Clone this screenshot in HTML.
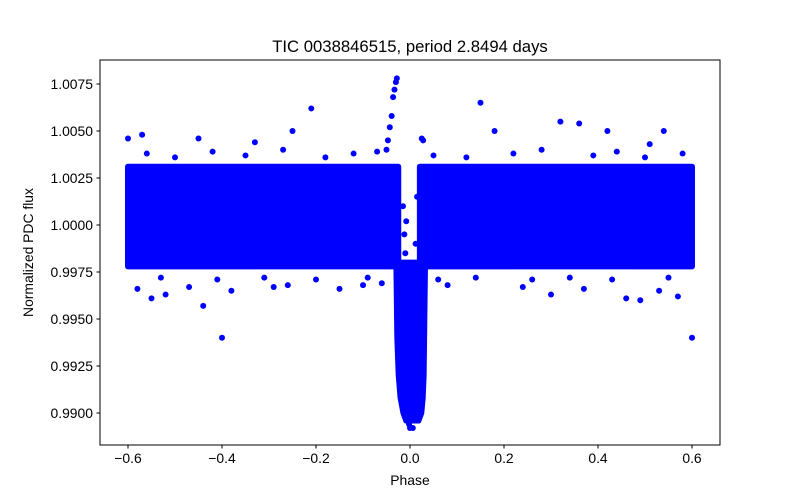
<!DOCTYPE html>
<html><head><meta charset="utf-8">
<style>
html,body{margin:0;padding:0;background:#fff;}
svg{display:block;font-family:"Liberation Sans","DejaVu Sans",sans-serif;}
</style></head>
<body>
<svg id="chart" width="800" height="500" viewBox="0 0 800 500">
<rect x="0" y="0" width="800" height="500" fill="#fff"/>
<g id="plot"></g>
<rect x="100" y="60" width="620" height="385" fill="none" stroke="#000" stroke-width="1"/>
<g id="xticks"></g>
<g id="yticks"></g>
<text x="410" y="52" font-size="16.7" text-anchor="middle">TIC 0038846515, period 2.8494 days</text>
<text x="410" y="485" font-size="13.9" text-anchor="middle">Phase</text>
<text x="0" y="0" font-size="13.9" text-anchor="middle" transform="translate(33,252.5) rotate(-90)">Normalized PDC flux</text>
</svg>
<script>
// Data arrays
const xTickValues = [-0.6, -0.4, -0.2, 0.0, 0.2, 0.4, 0.6];
const xTickLabels = ["\u22120.6", "\u22120.4", "\u22120.2", "0.0", "0.2", "0.4", "0.6"];
const yTickValues = [0.9900, 0.9925, 0.9950, 0.9975, 1.0000, 1.0025, 1.0050, 1.0075];
const yTickLabels = ["0.9900", "0.9925", "0.9950", "0.9975", "1.0000", "1.0025", "1.0050", "1.0075"];
// dense out-of-transit band envelopes: [phaseStart, phaseEnd, fluxLow, fluxHigh]
const leftBand = [-0.6, -0.025, 0.9978, 1.0031];
const rightBand = [0.021, 0.6, 0.9978, 1.0031];
// transit channel envelope
const transitFlux = [0.9980, 0.9960, 0.9940, 0.9920, 0.9908, 0.9900, 0.9896];
const transitLeft = [-0.029, -0.028, -0.027, -0.024, -0.020, -0.014, -0.008];
const transitRight = [0.032, 0.031, 0.030, 0.029, 0.027, 0.024, 0.018];
// individual scattered points (phase, flux)
const outlierPhase = [-0.40, 0.60, -0.21, 0.15, 0.32, 0.36, 0.18, -0.25, 0.42, 0.54, -0.57, -0.60, -0.45, -0.33, 0.51,
  -0.58, -0.55, -0.52, -0.47, -0.44, -0.38, -0.29, -0.26, -0.15, -0.10, -0.06, 0.08, 0.24, 0.30, 0.37, 0.46, 0.53, 0.57, 0.49,
  -0.028, -0.030, -0.033, -0.036, -0.039, -0.043, -0.047, -0.050, 0.028, 0.025,
  0.000, 0.006, -0.002, 0.009,
  -0.56, -0.50, -0.42, -0.35, -0.27, -0.18, -0.12, -0.07, 0.05, 0.12, 0.22, 0.28, 0.39, 0.44, 0.50, 0.58,
  -0.53, -0.41, -0.31, -0.20, -0.09, 0.06, 0.14, 0.26, 0.34, 0.43, 0.55,
  -0.015, -0.012, -0.008, 0.012, 0.015, -0.010];
const outlierFlux = [0.9940, 0.9940, 1.0062, 1.0065, 1.0055, 1.0054, 1.0050, 1.0050, 1.0050, 1.0050, 1.0048, 1.0046, 1.0046, 1.0044, 1.0043,
  0.9966, 0.9961, 0.9963, 0.9967, 0.9957, 0.9965, 0.9967, 0.9968, 0.9966, 0.9968, 0.9969, 0.9968, 0.9967, 0.9963, 0.9966, 0.9961, 0.9965, 0.9962, 0.9960,
  1.0078, 1.0076, 1.0072, 1.0068, 1.0058, 1.0052, 1.0045, 1.0040, 1.0045, 1.0046,
  0.9892, 0.9892, 0.9894, 0.9897,
  1.0038, 1.0036, 1.0039, 1.0037, 1.0040, 1.0036, 1.0038, 1.0039, 1.0037, 1.0036, 1.0038, 1.0040, 1.0037, 1.0039, 1.0036, 1.0038,
  0.9972, 0.9971, 0.9972, 0.9971, 0.9972, 0.9971, 0.9972, 0.9971, 0.9972, 0.9971, 0.9972,
  1.0010, 0.9995, 1.0002, 0.9990, 1.0015, 0.9985];

const X0 = 100, X1 = 720, Y0 = 60, Y1 = 445;
function xs(p){ return 410 + p * 470; }
function ys(f){ return 225 - (f - 1.0) * 18800; }
const NS = "http://www.w3.org/2000/svg";
const plot = document.getElementById('plot');
const blue = "#0000ff";

function band(b, name){
  const r = document.createElementNS(NS, 'rect');
  r.setAttribute('x', xs(b[0]) - 3);
  r.setAttribute('y', ys(b[3]) - 3);
  r.setAttribute('width', xs(b[1]) - xs(b[0]) + 6);
  r.setAttribute('height', ys(b[2]) - ys(b[3]) + 6);
  r.setAttribute('rx', 3);
  r.setAttribute('fill', blue);
  
  
  plot.appendChild(r);
}
band(leftBand, 'pre-transit-data-band');
band(rightBand, 'post-transit-data-band');

// transit polygon
let pts = [];
for (let i = 0; i < transitFlux.length; i++) pts.push(xs(transitLeft[i]) + ',' + ys(transitFlux[i]));
for (let i = transitFlux.length - 1; i >= 0; i--) pts.push(xs(transitRight[i]) + ',' + ys(transitFlux[i]));
const poly = document.createElementNS(NS, 'polygon');
poly.setAttribute('points', pts.join(' '));
poly.setAttribute('fill', blue);
poly.setAttribute('stroke', blue);
poly.setAttribute('stroke-width', '6');
poly.setAttribute('stroke-linejoin', 'round');


plot.appendChild(poly);

for (let i = 0; i < outlierPhase.length; i++) {
  const c = document.createElementNS(NS, 'circle');
  c.setAttribute('cx', xs(outlierPhase[i]));
  c.setAttribute('cy', ys(outlierFlux[i]));
  c.setAttribute('r', 3);
  c.setAttribute('fill', blue);
  
  
  plot.appendChild(c);
}

const xg = document.getElementById('xticks');
xTickValues.forEach((v, i) => {
  const x = xs(v);
  const l = document.createElementNS(NS, 'line');
  l.setAttribute('x1', x); l.setAttribute('x2', x);
  l.setAttribute('y1', Y1); l.setAttribute('y2', Y1 + 3.5);
  l.setAttribute('stroke', '#000');
  
  
  xg.appendChild(l);
  const t = document.createElementNS(NS, 'text');
  t.setAttribute('x', x); t.setAttribute('y', Y1 + 18);
  t.setAttribute('font-size', '13.9');
  t.setAttribute('text-anchor', 'middle');
  
  
  t.textContent = xTickLabels[i];
  xg.appendChild(t);
});
const yg = document.getElementById('yticks');
yTickValues.forEach((v, i) => {
  const y = ys(v);
  const l = document.createElementNS(NS, 'line');
  l.setAttribute('x1', X0 - 3.5); l.setAttribute('x2', X0);
  l.setAttribute('y1', y); l.setAttribute('y2', y);
  l.setAttribute('stroke', '#000');
  
  
  yg.appendChild(l);
  const t = document.createElementNS(NS, 'text');
  t.setAttribute('x', X0 - 7); t.setAttribute('y', y + 5);
  t.setAttribute('font-size', '13.9');
  t.setAttribute('text-anchor', 'end');
  
  
  t.textContent = yTickLabels[i];
  yg.appendChild(t);
});
</script>
</body></html>
